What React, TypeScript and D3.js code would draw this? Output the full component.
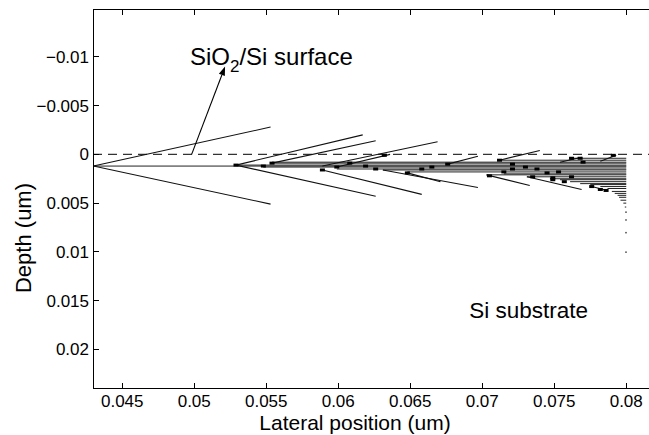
import React from "react";
import * as d3 from "d3";

const W = 649;
const H = 435;

// axis extents (um)
const xDomain: [number, number] = [0.04297, 0.08158];
const yDomain: [number, number] = [-0.0149, 0.024];

const xTicks = [0.045, 0.05, 0.055, 0.06, 0.065, 0.07, 0.075, 0.08];
const xTickLabels = ["0.045", "0.05", "0.055", "0.06", "0.065", "0.07", "0.075", "0.08"];
const yTicks = [-0.01, -0.005, 0, 0.005, 0.01, 0.015, 0.02];
const yTickLabels = ["\u22120.01", "\u22120.005", "0", "0.005", "0.01", "0.015", "0.02"];

const surfaceDepth = 0;
const branchEnd = 0.08;

// inclined branches: [x1, depth1, x2, depth2]
const branches: [number, number, number, number][] = [
  [0.0430, 0.0012, 0.0553, -0.0028],
  [0.0430, 0.0012, 0.0553, 0.0051],
  [0.0529, 0.0011, 0.0617, -0.0020],
  [0.0529, 0.0011, 0.0626, 0.0043],
  [0.0554, 0.0009, 0.0626, -0.0014],
  [0.0589, 0.0012, 0.0669, -0.0013],
  [0.0599, 0.0013, 0.0636, 0.0000],
  [0.0589, 0.0016, 0.0658, 0.0041],
  [0.0631, 0.0016, 0.0697, 0.0034],
  [0.0648, 0.0019, 0.0671, 0.0028],
  [0.0676, 0.0010, 0.0697, 0.0002],
  [0.0712, 0.0006, 0.0740, -0.0004],
  [0.0703, 0.0021, 0.0733, 0.0032],
  [0.0731, 0.0023, 0.0769, 0.0036],
  [0.0776, 0.0033, 0.0787, 0.0037],
  [0.0754, 0.0008, 0.0769, 0.0003],
  [0.0782, 0.0007, 0.0793, 0.0001],
];

// horizontal branches: [xStart, depth], all running to branchEnd
const layers: [number, number][] = [
  [0.0762, 0.0004],
  [0.0712, 0.0006],
  [0.0554, 0.0008],
  [0.0554, 0.0009],
  [0.0529, 0.0011],
  [0.0430, 0.0012],
  [0.0548, 0.0013],
  [0.0599, 0.0015],
  [0.0631, 0.0016],
  [0.0648, 0.0018],
  [0.0715, 0.0020],
  [0.0703, 0.0021],
  [0.0731, 0.0023],
  [0.0747, 0.0025],
  [0.0754, 0.0026],
  [0.0761, 0.0028],
  [0.0768, 0.0030],
  [0.0775, 0.0031],
  [0.0782, 0.0033],
  [0.0787, 0.0035],
  [0.0790, 0.0038],
  [0.0792, 0.0040],
  [0.0794, 0.0042],
  [0.0795, 0.0044],
  [0.0796, 0.0047],
  [0.0798, 0.0050],
  [0.0799, 0.0054],
];

// branching nodes: [x, depth]
const nodes: [number, number][] = [
  [0.0529, 0.0011], [0.0548, 0.0012], [0.0554, 0.0009], [0.0589, 0.0016],
  [0.0599, 0.0013], [0.0608, 0.0009], [0.0619, 0.0012], [0.0626, 0.0015],
  [0.0632, 0.0001], [0.0648, 0.0019], [0.0658, 0.0015], [0.0665, 0.0013],
  [0.0676, 0.0010], [0.0705, 0.0022], [0.0712, 0.0006], [0.0721, 0.0010],
  [0.0721, 0.0015], [0.0730, 0.0013], [0.0738, 0.0015], [0.0735, 0.0023],
  [0.0749, 0.0024], [0.0762, 0.0004], [0.0768, 0.0004], [0.0791, 0.0001],
  [0.0715, 0.0018], [0.0745, 0.0019], [0.0753, 0.0018], [0.0762, 0.0023],
  [0.0749, 0.0026], [0.0757, 0.0028], [0.0770, 0.0008], [0.0776, 0.0033],
  [0.0782, 0.0036], [0.0786, 0.0037],
];

// isolated deep points at the end of the branch front
const tailDepths = [0.0059, 0.0067, 0.0080, 0.0100];

const arrowFrom: [number, number] = [0.04982, 0.0];
const arrowTo: [number, number] = [0.05214, -0.0090];
const surfaceLabelPos: [number, number] = [0.0497, -0.0092];
const substrateLabelPos: [number, number] = [0.0691, 0.0168];

const FONT = "'Liberation Sans', Arial, Helvetica, sans-serif";

export default function App() {
  const left = 93;
  const top = 9;
  const right = 649;
  const bottom = 388.5;
  const x = d3.scaleLinear().domain(xDomain).range([left, right]);
  const y = d3.scaleLinear().domain(yDomain).range([top, bottom]);

  const line = d3.line<[number, number]>().x((d) => x(d[0])).y((d) => y(d[1]));

  // arrowhead geometry
  const ax0 = x(arrowFrom[0]);
  const ay0 = y(arrowFrom[1]);
  const ax1 = x(arrowTo[0]);
  const ay1 = y(arrowTo[1]);
  const ang = Math.atan2(ay1 - ay0, ax1 - ax0);
  const hl = 9;
  const hw = 3.2;
  const bx = ax1 - hl * Math.cos(ang);
  const by = ay1 - hl * Math.sin(ang);
  const head = [
    [ax1, ay1],
    [bx + hw * Math.sin(ang), by - hw * Math.cos(ang)],
    [bx - hw * Math.sin(ang), by + hw * Math.cos(ang)],
  ]
    .map((p) => p.join(","))
    .join(" ");

  return (
    <svg
      width={W}
      height={H}
      style={{ position: "absolute", left: 0, top: 0, background: "#fff" }}
      fontFamily={FONT}
    >
      <rect x={0} y={0} width={W} height={H} fill="#fff" />
      <defs>
        <clipPath id="plotClip">
          <rect x={left} y={top} width={right - left} height={bottom - top} />
        </clipPath>
      </defs>

      <g clipPath="url(#plotClip)">
        {/* surface dashed line */}
        <path
          d={line([[xDomain[0], surfaceDepth], [xDomain[1], surfaceDepth]]) || ""}
          stroke="#333"
          strokeWidth={1.2}
          strokeDasharray="9,6"
          fill="none"
        />
        {/* horizontal branches */}
        {layers.map((l, i) => (
          <path
            key={"l" + i}
            d={line([[l[0], l[1]], [branchEnd, l[1]]]) || ""}
            stroke="#222"
            strokeWidth={1}
            fill="none"
          />
        ))}
        {/* inclined branches */}
        {branches.map((b, i) => (
          <path
            key={"b" + i}
            d={line([[b[0], b[1]], [b[2], b[3]]]) || ""}
            stroke="#111"
            strokeWidth={1.1}
            fill="none"
          />
        ))}
        {/* nodes */}
        {nodes.map((n, i) => (
          <rect
            key={"n" + i}
            x={x(n[0]) - 2.5}
            y={y(n[1]) - 1.5}
            width={5}
            height={3}
            fill="#000"
          />
        ))}
        {/* tail points */}
        {tailDepths.map((d, i) => (
          <rect key={"t" + i} x={x(branchEnd) - 1} y={y(d) - 0.5} width={1.5} height={1.5} fill="#444" />
        ))}
        {/* arrow */}
        <line x1={ax0} y1={ay0} x2={bx} y2={by} stroke="#000" strokeWidth={1.1} />
        <polygon points={head} fill="#000" />
      </g>

      {/* axes frame */}
      <g stroke="#000" strokeWidth={1} shapeRendering="crispEdges" fill="none">
        <line x1={left} y1={top} x2={W} y2={top} />
        <line x1={left} y1={bottom} x2={W} y2={bottom} />
        <line x1={left} y1={top} x2={left} y2={bottom} />
        {xTicks.map((t, i) => (
          <g key={"xt" + i}>
            <line x1={x(t)} x2={x(t)} y1={bottom} y2={bottom - 6} />
            <line x1={x(t)} x2={x(t)} y1={top} y2={top + 6} />
          </g>
        ))}
        {yTicks.map((t, i) => (
          <line key={"yt" + i} x1={left} x2={left + 6} y1={y(t)} y2={y(t)} />
        ))}
      </g>

      {/* tick labels */}
      <g fontSize={17} fill="#000">
        {xTicks.map((t, i) => (
          <text key={"xl" + i} x={x(t)} y={bottom + 18.5} textAnchor="middle">
            {xTickLabels[i]}
          </text>
        ))}
        {yTicks.map((t, i) => (
          <text key={"yl" + i} x={left - 4} y={y(t)} dy="0.35em" textAnchor="end">
            {yTickLabels[i]}
          </text>
        ))}
      </g>

      {/* axis labels */}
      <text x={355} y={429.5} textAnchor="middle" fontSize={21} fill="#000">
        Lateral position (um)
      </text>
      <text
        transform={`translate(31,238) rotate(-90)`}
        textAnchor="middle"
        fontSize={22}
        fill="#000"
      >
        Depth (um)
      </text>

      {/* annotations */}
      <text x={x(surfaceLabelPos[0])} y={y(surfaceLabelPos[1])} fontSize={24} fill="#000">
        SiO
        <tspan fontSize={17} dy={7}>2</tspan>
        <tspan dy={-7}>/Si surface</tspan>
      </text>
      <text x={x(substrateLabelPos[0])} y={y(substrateLabelPos[1])} fontSize={22.5} fill="#000">
        Si substrate
      </text>
    </svg>
  );
}
